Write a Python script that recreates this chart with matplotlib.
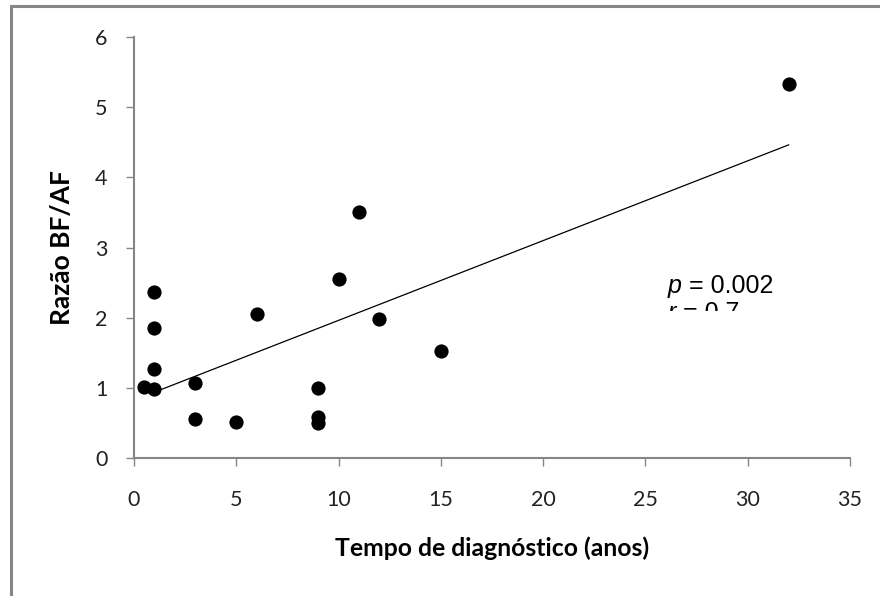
import numpy as np
import matplotlib

matplotlib.use("Agg")
import matplotlib.pyplot as plt
from matplotlib.patches import Rectangle
from matplotlib.transforms import Bbox

# data
tempo = [0.5, 1, 1, 1, 1, 3, 3, 5, 6, 9, 9, 9, 10, 11, 12, 15, 32]
razao = [1.01, 0.98, 1.27, 1.85, 2.37, 1.07, 0.56, 0.51, 2.05, 1.0, 0.58, 0.50,
         2.55, 3.50, 1.98, 1.52, 5.33]
x_ticks = [0, 5, 10, 15, 20, 25, 30, 35]
y_ticks = [0, 1, 2, 3, 4, 5, 6]
p_text = " = 0.002"
r_text = " = 0.7"

AXIS_GRAY = "#868686"
LABEL_FONT = ["Lato", "DejaVu Sans"]
ARIAL = ["Liberation Sans", "DejaVu Sans"]

fig = plt.figure(figsize=(8.8, 5.96), dpi=100)
ax = fig.add_axes([134 / 880, 138 / 596, 716 / 880, 421 / 596])

ax.scatter(tempo, razao, s=105, color="black", zorder=3, linewidths=0)

# linear trend line over the data range
slope, intercept = np.polyfit(tempo, razao, 1)
xs = np.array([1, max(tempo)])
ax.plot(xs, slope * xs + intercept, color="black", linewidth=0.9, zorder=2)

ax.set_xlim(0, 35)
ax.set_ylim(0, 6)
ax.set_xticks(x_ticks)
ax.set_yticks(y_ticks)
ax.set_xticklabels([str(t) for t in x_ticks], family=LABEL_FONT, fontsize=15.5,
                   color="#222222")
ax.set_yticklabels([str(t) for t in y_ticks], family=LABEL_FONT, fontsize=15.5,
                   color="#222222")
ax.tick_params(axis="both", direction="out", length=6, width=1, color=AXIS_GRAY)
ax.tick_params(axis="y", pad=13)
ax.tick_params(axis="x", pad=17)

for side in ("top", "right"):
    ax.spines[side].set_visible(False)
for side in ("left", "bottom"):
    ax.spines[side].set_color(AXIS_GRAY)
    ax.spines[side].set_linewidth(1.5)

ax.set_xlabel("Tempo de diagnóstico (anos)", family=LABEL_FONT, fontsize=17.8,
              fontweight="bold", labelpad=19)
ax.set_ylabel("Razão BF/AF", family=LABEL_FONT, fontsize=19,
              fontweight="bold", labelpad=15)

# annotation box, cut off just below the first line as in the original
clip = Bbox.from_extents(600, 596 - 311, 860, 596 - 250)
p1 = fig.text(668 / 880, 1 - 293 / 596, "p", family=ARIAL, fontsize=18,
              style="italic")
ax.annotate(p_text, xy=(1, 0), xycoords=p1, va="bottom", family=ARIAL,
            fontsize=18)
r1 = fig.text(668 / 880, 1 - 320 / 596, "r", family=ARIAL, fontsize=18,
              style="italic")
r2 = ax.annotate(r_text, xy=(1, 0), xycoords=r1, va="bottom", family=ARIAL,
                 fontsize=18, annotation_clip=False)
for t in (r1, r2):
    t.set_clip_box(clip)
    t.set_clip_on(True)

# outer chart frame (left and top edges visible)
fig.add_artist(Rectangle((11 / 880, -0.05), 1.1, 1 - 6 / 596 + 0.05,
                         transform=fig.transFigure, fill=False,
                         edgecolor=AXIS_GRAY, linewidth=2.2))

fig.savefig("out.png", dpi=100)
